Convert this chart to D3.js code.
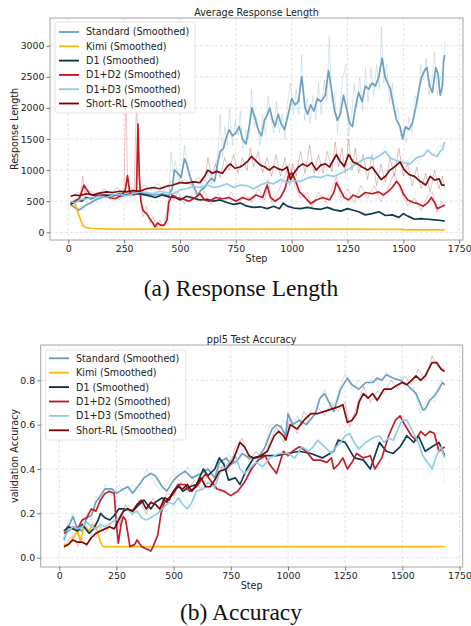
<!DOCTYPE html>
<html><head><meta charset="utf-8">
<script src="https://cdn.jsdelivr.net/npm/d3@7"></script>
<style>
html,body{margin:0;padding:0;background:#fff;}
svg text{font-family:"DejaVu Sans",sans-serif;}
</style></head>
<body><svg id="c" width="471" height="626"></svg>
<script>
// ---------------- DATA ----------------
const seriesNames = ["Standard (Smoothed)","Kimi (Smoothed)","D1 (Smoothed)","D1+D2 (Smoothed)","D1+D3 (Smoothed)","Short-RL (Smoothed)"];
const seriesColors = ["#669bbc","#ffb703","#003049","#c1121f","#8ecae6","#780000"];
const xTicks = [0,250,500,750,1000,1250,1500,1750];
const lenTicks = [0,500,1000,1500,2000,2500,3000];
const accTicks = [0.0,0.2,0.4,0.6,0.8];

// (a) response length, smoothed, [step, value]
const lenStandard = [[10,450],[20,420],[35,380],[50,360],[65,400],[80,440],[100,470],[120,520],[150,560],[180,590],[210,600],[240,580],[270,620],[300,610],[330,630],[360,610],[390,600],[420,620],[450,590],[465,700],[475,1000],[490,950],[505,880],[520,1180],[530,1100],[545,900],[560,750],[578,600],[595,680],[610,720],[625,800],[640,870],[655,820],[668,1100],[680,1300],[695,1350],[705,1500],[720,1650],[735,1550],[750,1600],[765,1700],[780,1500],[795,1420],[810,1700],[822,2000],[835,1850],[850,1650],[865,1550],[878,1800],[892,1900],[902,2000],[915,1800],[925,1700],[940,1900],[952,1750],[968,1650],[985,1900],[1000,2150],[1015,2050],[1030,2100],[1045,2500],[1060,2000],[1072,1900],[1085,2050],[1100,1950],[1115,2150],[1130,2100],[1150,2200],[1165,2600],[1178,2300],[1192,1950],[1205,1800],[1218,1900],[1232,2200],[1245,2000],[1260,1750],[1272,1700],[1285,2000],[1300,2250],[1315,2100],[1330,2350],[1345,2300],[1360,2400],[1375,2350],[1390,2500],[1405,2800],[1418,2500],[1430,2400],[1442,2300],[1455,2050],[1470,1800],[1485,1700],[1497,1500],[1510,1700],[1525,1650],[1540,1750],[1555,2000],[1570,2300],[1582,2500],[1595,2600],[1605,2650],[1618,2350],[1630,2250],[1645,2650],[1655,2550],[1665,2200],[1675,2350],[1680,2750],[1685,2850]];
const lenKimi = [[10,450],[25,470],[35,420],[45,300],[55,200],[65,110],[80,75],[100,65],[130,58],[200,52],[400,50],[800,50],[1200,50],[1497,48],[1502,38],[1685,38]];
const lenD1 = [[10,450],[25,480],[40,520],[60,500],[80,560],[100,540],[130,580],[160,600],[200,590],[230,620],[260,600],[300,630],[330,610],[360,590],[390,560],[420,600],[450,570],[480,560],[500,520],[530,580],[560,550],[590,520],[620,530],[650,500],[680,520],[710,480],[740,450],[770,470],[800,420],[830,400],[860,410],[890,380],[920,420],[945,380],[962,470],[980,420],[1010,390],[1040,380],[1070,400],[1100,380],[1130,370],[1160,400],[1190,360],[1220,340],[1250,380],[1280,350],[1300,330],[1330,280],[1360,300],[1390,330],[1420,270],[1450,280],[1480,240],[1500,300],[1520,260],[1550,210],[1580,220],[1610,210],[1640,200],[1670,190],[1685,180]];
const lenD1D2 = [[10,480],[30,500],[50,550],[60,650],[70,760],[80,700],[95,620],[120,590],[150,600],[180,560],[210,540],[240,600],[255,680],[265,910],[275,650],[290,600],[305,620],[312,1740],[318,900],[325,500],[335,350],[350,300],[365,220],[378,150],[388,90],[400,150],[415,110],[430,120],[442,200],[450,480],[465,600],[485,560],[510,540],[540,500],[570,560],[590,620],[610,520],[630,500],[660,560],[690,540],[720,560],[750,500],[780,560],[810,520],[840,600],[870,560],[890,760],[905,560],[925,500],[950,560],[970,700],[985,900],[1000,960],[1015,850],[1035,650],[1060,560],[1085,460],[1110,520],[1140,560],[1170,520],[1190,650],[1200,800],[1215,700],[1235,560],[1255,520],[1275,600],[1300,560],[1330,640],[1360,620],[1390,650],[1410,600],[1430,650],[1450,720],[1470,820],[1485,750],[1500,620],[1520,520],[1545,480],[1565,460],[1590,420],[1610,480],[1625,560],[1640,480],[1652,380],[1670,410],[1685,440]];
const lenD1D3 = [[10,500],[30,470],[50,520],[80,540],[110,560],[140,580],[170,560],[200,600],[230,610],[260,590],[290,620],[320,650],[350,640],[380,620],[410,660],[440,640],[470,620],[500,680],[530,700],[560,740],[590,720],[620,760],[650,720],[680,740],[710,780],[740,720],[770,760],[800,750],[830,700],[860,760],[890,800],[920,780],[950,850],[980,800],[1010,830],[1040,820],[1070,870],[1100,900],[1130,880],[1160,920],[1190,900],[1220,950],[1250,1000],[1280,1080],[1310,1150],[1340,1200],[1370,1180],[1400,1250],[1420,1300],[1440,1200],[1470,1150],[1500,1120],[1530,1100],[1560,1200],[1590,1230],[1610,1320],[1630,1250],[1650,1220],[1665,1300],[1675,1330],[1685,1450]];
const lenShortRL = [[10,580],[30,600],[50,590],[80,620],[110,600],[140,630],[170,650],[200,640],[230,660],[260,650],[290,670],[320,660],[350,700],[380,720],[410,700],[440,740],[470,760],[500,800],[530,790],[560,810],[590,800],[610,900],[625,1000],[645,950],[665,980],[690,950],[710,1050],[725,1100],[745,1030],[770,1050],[790,1100],[805,1150],[820,1220],[840,1150],[860,1080],[880,1050],[900,1000],[920,1060],[940,1020],[960,1000],[980,1050],[995,850],[1010,950],[1030,1050],[1050,1100],[1070,1060],[1090,1120],[1110,1000],[1130,1080],[1150,1100],[1170,1050],[1185,1150],[1200,1250],[1215,1150],[1235,1060],[1255,1250],[1275,1130],[1295,1100],[1315,1050],[1340,1000],[1360,1050],[1380,950],[1400,850],[1420,900],[1440,1000],[1460,1050],[1485,1130],[1505,1000],[1525,930],[1550,900],[1575,820],[1600,760],[1620,900],[1640,840],[1660,860],[1672,760],[1685,760]];

// (a) response length, raw (faint), [step, value]
const lenStandardRaw = [[10,430],[25,520],[40,330],[55,420],[70,350],[85,500],[100,430],[115,560],[130,480],[150,620],[170,540],[190,650],[210,560],[230,640],[250,560],[270,680],[290,580],[310,690],[330,600],[350,660],[370,570],[390,650],[410,580],[430,670],[450,560],[460,1300],[470,900],[480,1150],[495,800],[510,1000],[520,1400],[535,950],[550,800],[565,620],[580,520],[595,780],[610,650],[625,950],[640,780],[655,1000],[670,1250],[680,1900],[690,1200],[700,1700],[712,1400],[722,2000],[735,1400],[748,1800],[760,1550],[770,1950],[782,1350],[795,1650],[808,1500],[820,2300],[832,1700],[845,1850],[858,1400],[870,1900],[882,1600],[895,2200],[908,1800],[920,1600],[932,2100],[945,1600],[958,1900],[970,1500],[982,2100],[995,2400],[1008,1900],[1020,2300],[1032,1900],[1045,2850],[1058,1800],[1070,2150],[1082,1750],[1095,2200],[1108,1800],[1120,2400],[1132,1900],[1145,2450],[1158,2100],[1168,3150],[1180,2100],[1192,2250],[1205,1600],[1218,2100],[1230,2500],[1242,2700],[1255,1550],[1268,1850],[1280,2400],[1292,2000],[1305,2500],[1318,1950],[1330,2650],[1342,2100],[1355,2650],[1368,2200],[1380,2700],[1392,2300],[1402,3300],[1412,2400],[1425,2700],[1438,2100],[1450,2400],[1462,1850],[1475,2000],[1488,1550],[1500,1650],[1512,1450],[1525,1850],[1538,1600],[1552,2200],[1565,2050],[1578,2700],[1590,2450],[1602,2800],[1615,2200],[1628,2450],[1640,2900],[1652,2200],[1665,2500],[1675,2350],[1685,3050]];
const lenD1D2Raw = [[10,460],[30,540],[50,500],[65,900],[75,620],[90,680],[110,550],[130,650],[150,560],[170,640],[190,520],[210,600],[230,520],[250,700],[258,2400],[265,800],[280,560],[295,700],[305,2050],[312,1500],[320,600],[335,250],[350,420],[365,150],[380,250],[395,60],[410,200],[425,80],[440,300],[455,700],[470,500],[490,650],[520,450],[550,600],[580,500],[610,650],[640,450],[670,620],[700,480],[730,650],[760,450],[790,620],[820,480],[850,700],[880,520],[895,850],[910,480],[940,650],[970,900],[990,1100],[1010,800],[1040,550],[1070,650],[1090,400],[1120,650],[1150,480],[1180,700],[1200,900],[1220,550],[1250,700],[1280,480],[1310,750],[1340,550],[1370,750],[1400,500],[1430,700],[1460,950],[1490,650],[1520,420],[1550,550],[1580,350],[1610,600],[1630,650],[1650,320],[1670,500],[1685,420]];
const lenD1D3Raw = [[10,480],[40,560],[70,500],[100,600],[130,540],[160,620],[190,560],[220,650],[250,570],[280,660],[310,600],[340,700],[370,600],[400,700],[430,620],[460,680],[490,640],[520,760],[550,700],[580,780],[610,700],[640,800],[670,700],[700,820],[730,700],[760,820],[790,700],[820,780],[850,720],[880,860],[910,750],[940,900],[970,780],[1000,900],[1030,780],[1060,950],[1090,850],[1120,1000],[1150,850],[1180,1000],[1210,880],[1240,1100],[1270,1000],[1300,1250],[1330,1100],[1360,1300],[1390,1150],[1420,1400],[1450,1150],[1480,1250],[1510,1050],[1540,1250],[1570,1100],[1600,1350],[1630,1200],[1660,1400],[1685,1350]];
const lenShortRLRaw = [[10,560],[40,640],[70,580],[100,660],[130,600],[160,700],[190,620],[220,720],[250,610],[280,720],[310,640],[340,760],[370,680],[400,780],[430,690],[460,820],[490,760],[520,850],[550,760],[580,880],[610,820],[625,1200],[640,900],[660,1100],[680,880],[700,1200],[720,1000],[740,1250],[760,950],[780,1200],[800,1000],[815,1350],[830,1050],[850,1300],[870,950],[890,1200],[910,900],[930,1250],[950,900],[970,1200],[990,750],[1005,1100],[1020,900],[1040,1300],[1060,950],[1080,1400],[1100,950],[1120,1250],[1140,950],[1160,1300],[1180,980],[1195,1450],[1210,1050],[1225,1350],[1240,950],[1255,1500],[1270,1000],[1285,1350],[1300,950],[1320,1250],[1340,850],[1360,1250],[1380,750],[1400,1100],[1420,800],[1440,1200],[1460,900],[1480,1350],[1500,900],[1520,1100],[1540,750],[1560,1050],[1580,700],[1600,950],[1620,650],[1640,1000],[1660,700],[1675,900],[1685,700]];

// (b) accuracy, smoothed, [step, value]
const accStandard = [[20,0.08],[40,0.14],[60,0.185],[80,0.13],[100,0.12],[120,0.18],[140,0.19],[160,0.25],[180,0.28],[200,0.31],[230,0.31],[250,0.29],[280,0.31],[300,0.32],[320,0.29],[350,0.33],[370,0.36],[400,0.38],[420,0.37],[450,0.32],[470,0.30],[500,0.35],[520,0.37],[550,0.39],[580,0.36],[620,0.38],[650,0.40],[680,0.36],[700,0.43],[730,0.45],[750,0.42],[780,0.44],[800,0.47],[830,0.45],[870,0.45],[900,0.50],[930,0.58],[950,0.60],[970,0.59],[990,0.55],[1000,0.65],[1020,0.60],[1050,0.62],[1080,0.60],[1120,0.65],[1140,0.72],[1160,0.74],[1180,0.70],[1200,0.66],[1230,0.76],[1260,0.81],[1280,0.78],[1310,0.76],[1340,0.79],[1370,0.79],[1390,0.81],[1410,0.80],[1430,0.825],[1460,0.81],[1490,0.80],[1520,0.78],[1540,0.76],[1560,0.74],[1590,0.666],[1600,0.67],[1620,0.71],[1640,0.73],[1660,0.76],[1675,0.79],[1685,0.78]];
const accKimi = [[20,0.06],[40,0.06],[60,0.09],[80,0.12],[92,0.075],[110,0.147],[130,0.12],[145,0.15],[160,0.14],[180,0.07],[192,0.05],[1685,0.05]];
const accD1 = [[20,0.12],[40,0.14],[60,0.13],[80,0.12],[100,0.15],[130,0.11],[150,0.13],[170,0.17],[180,0.20],[200,0.18],[220,0.17],[240,0.19],[260,0.22],[300,0.22],[320,0.21],[350,0.24],[370,0.26],[400,0.22],[420,0.25],[450,0.27],[470,0.25],[500,0.30],[520,0.33],[540,0.30],[570,0.32],[600,0.33],[630,0.40],[650,0.37],[680,0.40],[700,0.45],[720,0.42],[740,0.35],[770,0.36],[790,0.33],[820,0.40],[850,0.45],[900,0.46],[950,0.46],[1000,0.47],[1050,0.48],[1100,0.47],[1150,0.45],[1200,0.48],[1220,0.53],[1250,0.52],[1290,0.45],[1330,0.44],[1360,0.40],[1400,0.52],[1430,0.48],[1460,0.47],[1490,0.50],[1520,0.55],[1550,0.52],[1570,0.55],[1600,0.48],[1630,0.50],[1660,0.52],[1685,0.46]];
const accD1D2 = [[20,0.11],[40,0.12],[60,0.14],[80,0.13],[100,0.17],[120,0.18],[140,0.22],[160,0.21],[180,0.26],[200,0.29],[220,0.30],[240,0.29],[250,0.15],[258,0.065],[270,0.15],[280,0.185],[290,0.17],[309,0.05],[330,0.06],[340,0.08],[360,0.05],[380,0.04],[400,0.03],[410,0.05],[430,0.10],[445,0.20],[460,0.25],[480,0.27],[500,0.29],[520,0.33],[550,0.33],[570,0.30],[600,0.32],[640,0.38],[660,0.35],[690,0.31],[720,0.30],[750,0.28],[780,0.30],[810,0.34],[840,0.40],[870,0.44],[900,0.46],[920,0.42],[950,0.38],[980,0.48],[1000,0.46],[1020,0.48],[1050,0.50],[1080,0.48],[1110,0.44],[1140,0.44],[1170,0.43],[1190,0.45],[1200,0.40],[1220,0.42],[1240,0.45],[1260,0.40],[1280,0.43],[1300,0.47],[1330,0.45],[1360,0.46],[1380,0.40],[1410,0.45],[1440,0.55],[1470,0.62],[1490,0.64],[1510,0.60],[1540,0.55],[1560,0.53],[1580,0.57],[1600,0.55],[1620,0.57],[1640,0.56],[1660,0.48],[1685,0.50]];
const accD1D3 = [[20,0.09],[40,0.12],[60,0.14],[80,0.13],[100,0.14],[120,0.16],[140,0.14],[160,0.13],[180,0.15],[200,0.14],[230,0.16],[260,0.18],[290,0.22],[320,0.20],[340,0.21],[360,0.18],[380,0.17],[400,0.18],[430,0.20],[460,0.23],[480,0.25],[500,0.24],[520,0.27],[540,0.24],[560,0.22],[580,0.25],[600,0.30],[630,0.31],[650,0.34],[680,0.32],[700,0.38],[720,0.40],[750,0.44],[770,0.46],[790,0.40],[810,0.38],[830,0.40],[860,0.43],[890,0.41],[920,0.45],[960,0.47],[1000,0.47],[1030,0.45],[1060,0.50],[1090,0.48],[1110,0.50],[1130,0.53],[1160,0.50],[1190,0.47],[1210,0.50],[1230,0.52],[1250,0.55],[1270,0.56],[1290,0.52],[1310,0.49],[1340,0.52],[1370,0.54],[1400,0.55],[1420,0.52],[1440,0.54],[1460,0.53],[1480,0.58],[1500,0.62],[1520,0.62],[1540,0.58],[1570,0.52],[1590,0.46],[1610,0.43],[1630,0.40],[1650,0.46],[1670,0.50],[1685,0.45]];
const accShortRL = [[20,0.05],[40,0.06],[60,0.08],[80,0.07],[100,0.07],[120,0.06],[140,0.09],[160,0.11],[180,0.12],[200,0.13],[220,0.14],[240,0.13],[260,0.17],[280,0.21],[300,0.22],[320,0.21],[340,0.24],[360,0.26],[380,0.22],[400,0.25],[420,0.24],[440,0.22],[460,0.27],[480,0.26],[500,0.30],[520,0.32],[540,0.31],[560,0.33],[580,0.30],[600,0.33],[620,0.36],[640,0.32],[660,0.32],[680,0.35],[700,0.39],[730,0.40],[760,0.44],[790,0.52],[810,0.50],[830,0.46],[850,0.45],[880,0.46],[910,0.48],[940,0.55],[960,0.57],[980,0.55],[990,0.53],[1010,0.60],[1040,0.58],[1070,0.62],[1100,0.65],[1130,0.65],[1160,0.66],[1190,0.67],[1220,0.68],[1240,0.69],[1260,0.61],[1280,0.62],[1300,0.65],[1310,0.70],[1330,0.74],[1350,0.72],[1370,0.74],[1390,0.71],[1420,0.76],[1450,0.76],[1480,0.78],[1500,0.79],[1520,0.78],[1540,0.80],[1560,0.82],[1580,0.80],[1600,0.82],[1630,0.88],[1650,0.88],[1670,0.85],[1685,0.84]];

// (b) accuracy, raw (faint), [step, value]
const accStandardRaw = [[20,0.06],[40,0.17],[60,0.20],[80,0.10],[100,0.15],[120,0.20],[140,0.17],[160,0.28],[180,0.25],[200,0.33],[230,0.28],[260,0.33],[290,0.28],[320,0.33],[350,0.30],[380,0.40],[410,0.35],[440,0.30],[470,0.33],[500,0.38],[530,0.34],[560,0.41],[590,0.35],[620,0.42],[650,0.37],[680,0.44],[710,0.40],[740,0.47],[770,0.42],[800,0.49],[830,0.43],[860,0.48],[890,0.45],[920,0.60],[950,0.56],[980,0.62],[1010,0.58],[1040,0.64],[1070,0.58],[1100,0.66],[1130,0.70],[1160,0.76],[1190,0.67],[1220,0.74],[1250,0.83],[1280,0.76],[1310,0.80],[1340,0.76],[1370,0.82],[1400,0.78],[1430,0.84],[1460,0.79],[1490,0.82],[1520,0.75],[1550,0.77],[1580,0.65],[1610,0.72],[1640,0.70],[1665,0.80],[1685,0.77]];
const accShortRLRaw = [[20,0.04],[40,0.08],[60,0.10],[80,0.05],[100,0.09],[120,0.05],[140,0.11],[160,0.09],[180,0.14],[200,0.11],[230,0.16],[260,0.14],[290,0.24],[320,0.19],[350,0.26],[380,0.20],[410,0.27],[440,0.21],[470,0.29],[500,0.28],[530,0.34],[560,0.30],[590,0.35],[620,0.31],[650,0.37],[680,0.31],[710,0.41],[740,0.39],[770,0.50],[800,0.54],[830,0.44],[860,0.48],[890,0.44],[920,0.52],[950,0.59],[980,0.52],[1010,0.63],[1040,0.56],[1070,0.66],[1100,0.62],[1130,0.68],[1160,0.64],[1190,0.70],[1220,0.66],[1250,0.70],[1270,0.59],[1300,0.68],[1330,0.77],[1360,0.70],[1390,0.75],[1420,0.74],[1450,0.80],[1480,0.76],[1510,0.82],[1540,0.78],[1570,0.85],[1600,0.80],[1630,0.91],[1655,0.86],[1685,0.85]];
const accD1D3Raw = [[20,0.08],[60,0.16],[100,0.12],[140,0.17],[180,0.13],[220,0.18],[260,0.15],[300,0.24],[340,0.18],[380,0.20],[420,0.17],[460,0.26],[500,0.22],[540,0.28],[580,0.22],[620,0.33],[660,0.30],[700,0.41],[740,0.42],[780,0.48],[820,0.37],[860,0.46],[900,0.40],[940,0.48],[980,0.44],[1020,0.50],[1060,0.46],[1100,0.53],[1140,0.49],[1180,0.45],[1220,0.54],[1260,0.58],[1300,0.48],[1340,0.55],[1380,0.51],[1420,0.56],[1460,0.50],[1500,0.65],[1540,0.55],[1580,0.48],[1620,0.38],[1650,0.50],[1670,0.48],[1685,0.34]];

const lenSeries = [lenStandard,lenKimi,lenD1,lenD1D2,lenD1D3,lenShortRL];
const accSeries = [accStandard,accKimi,accD1,accD1D2,accD1D3,accShortRL];
// raw traces with the index of the series they belong to
const lenRaw = [[0,lenStandardRaw],[3,lenD1D2Raw],[4,lenD1D3Raw],[5,lenShortRLRaw]];
const accRaw = [[0,accStandardRaw],[4,accD1D3Raw],[5,accShortRLRaw]];

// ---------------- DRAW ----------------
const svg = d3.select("#c");

function panel(cfg){
  const g = svg.append("g");
  const {L,R,T,B} = cfg.box;
  const x = d3.scaleLinear().domain([0,1750]).range(cfg.xr);
  const y = d3.scaleLinear().domain(cfg.yd).range(cfg.yr);
  g.append("defs").append("clipPath").attr("id","clip"+cfg.id)
    .append("rect").attr("x",L).attr("y",T).attr("width",R-L).attr("height",B-T);
  // grid
  g.append("g").selectAll("line").data(xTicks).join("line")
    .attr("x1",d=>x(d)).attr("x2",d=>x(d)).attr("y1",T).attr("y2",B)
    .attr("stroke","#d9d9d9").attr("stroke-width",0.7).attr("stroke-dasharray","3,2");
  g.append("g").selectAll("line").data(cfg.yTicks).join("line")
    .attr("x1",L).attr("x2",R).attr("y1",d=>y(d)).attr("y2",d=>y(d))
    .attr("stroke","#d9d9d9").attr("stroke-width",0.7).attr("stroke-dasharray","3,2");
  const line = d3.line().x(d=>x(d[0])).y(d=>y(d[1]));
  const plot = g.append("g").attr("clip-path",`url(#clip${cfg.id})`);
  // raw traces
  cfg.raw.forEach(([i,s])=>{
    plot.append("path").datum(s).attr("d",line).attr("fill","none")
      .attr("stroke",seriesColors[i]).attr("stroke-width",0.9).attr("stroke-opacity",0.27);
  });
  // smoothed lines
  cfg.series.forEach((s,i)=>{
    plot.append("path").datum(s).attr("d",line).attr("fill","none")
      .attr("stroke",seriesColors[i]).attr("stroke-width",1.7)
      .attr("stroke-linejoin","round").attr("stroke-opacity",0.95);
  });
  // frame
  g.append("rect").attr("x",L).attr("y",T).attr("width",R-L).attr("height",B-T)
    .attr("fill","none").attr("stroke","#a6a6a6").attr("stroke-width",1);
  // axes
  const ax = g.append("g").attr("transform",`translate(0,${B})`)
    .call(d3.axisBottom(x).tickValues(xTicks).tickSize(3.5).tickPadding(2).tickFormat(d3.format("d")));
  const ay = g.append("g").attr("transform",`translate(${L},0)`)
    .call(d3.axisLeft(y).tickValues(cfg.yTicks).tickSize(3.5).tickPadding(2).tickFormat(cfg.yFmt));
  [ax,ay].forEach(a=>{
    a.select(".domain").remove();
    a.selectAll(".tick line").attr("stroke","#555").attr("stroke-width",0.8);
    a.selectAll(".tick text").attr("fill","#222").style("font-size","9.4px").style("font-family","DejaVu Sans");
  });
  // title & labels
  g.append("text").attr("x",(L+R)/2).attr("y",T-2.5).attr("text-anchor","middle")
    .style("font-size","9.6px").attr("fill","#222").text(cfg.title);
  g.append("text").attr("x",(L+R)/2).attr("y",cfg.xlabY).attr("text-anchor","middle")
    .style("font-size","9.6px").attr("fill","#222").text("Step");
  g.append("text").attr("transform",`translate(${cfg.ylabX},${(T+B)/2}) rotate(-90)`)
    .attr("text-anchor","middle").style("font-size","9.6px").attr("fill","#222").text(cfg.ylabel);
  // legend
  const lg = cfg.legend;
  g.append("rect").attr("x",lg.x).attr("y",lg.y).attr("width",lg.w).attr("height",lg.h)
    .attr("rx",2).attr("fill","#fff").attr("fill-opacity",0.85).attr("stroke","#dcdcdc").attr("stroke-width",0.8);
  seriesNames.forEach((n,i)=>{
    const yy = lg.y0 + i*lg.dy;
    g.append("line").attr("x1",lg.hx).attr("x2",lg.hx+20).attr("y1",yy).attr("y2",yy)
      .attr("stroke",seriesColors[i]).attr("stroke-width",1.8);
    g.append("text").attr("x",lg.hx+27).attr("y",yy+3.4).style("font-size","9.6px").attr("fill","#222").text(n);
  });
  // caption
  svg.append("text").attr("x",241).attr("y",cfg.capY).attr("text-anchor","middle")
    .style("font-family","'Liberation Serif','Times New Roman',serif").style("font-size","23.5px")
    .attr("fill","#111").text(cfg.caption);
}

panel({
  id:"a", box:{L:50,R:463,T:18,B:240}, xr:[68.3,459.2], yd:[0,3000], yr:[232.3,45.7],
  yTicks:lenTicks, yFmt:d3.format("d"), series:lenSeries, raw:lenRaw,
  title:"Average Response Length", xlabY:262, ylabX:18, ylabel:"Response Length",
  legend:{x:55,y:22,w:140,h:91,y0:32,dy:14.3,hx:59},
  caption:"(a) Response Length", capY:296
});
panel({
  id:"b", box:{L:40.7,R:462.7,T:345,B:567}, xr:[59.3,459.5], yd:[0,0.8], yr:[557.7,380.3],
  yTicks:accTicks, yFmt:d3.format(".1f"), series:accSeries, raw:accRaw,
  title:"ppl5 Test Accuracy", xlabY:589, ylabX:18, ylabel:"validation Accuracy",
  legend:{x:45.7,y:350,w:140,h:90,y0:358.3,dy:14.4,hx:49},
  caption:"(b) Accuracy", capY:620
});
</script></body></html>
